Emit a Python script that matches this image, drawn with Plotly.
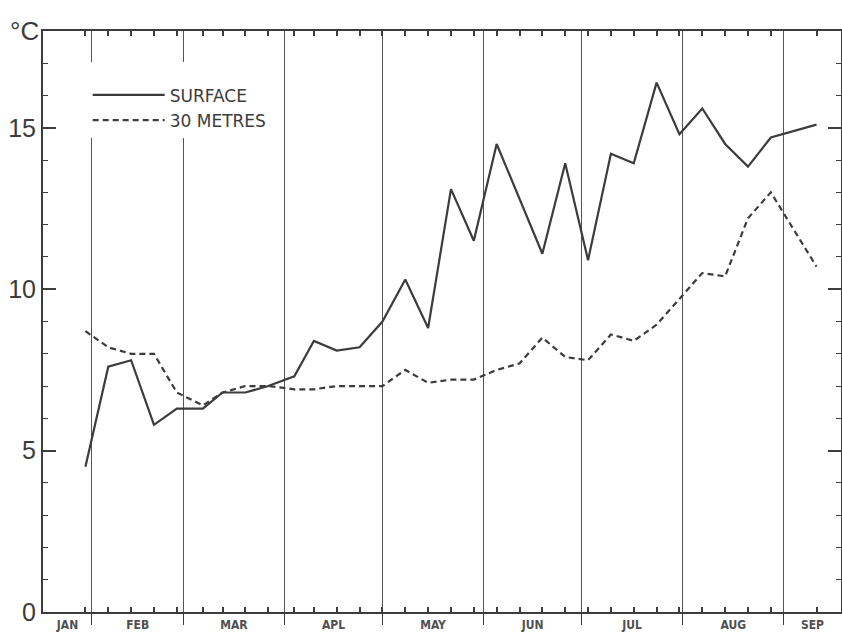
import plotly.graph_objects as go

# Day of year (Jan 1 = 0) of each weekly sampling
surface_days = [29, 36, 43, 50, 57, 65, 71, 78, 85, 93, 99, 106, 113, 120, 127, 134, 141, 148,
                155, 169, 176, 183, 190, 197, 204, 211, 218, 225, 232, 239, 253]
surface_temp = [4.5, 7.6, 7.8, 5.8, 6.3, 6.3, 6.8, 6.8, 7.0, 7.3, 8.4, 8.1, 8.2, 9.0, 10.3, 8.8,
                13.1, 11.5, 14.5, 11.1, 13.9, 10.9, 14.2, 13.9, 16.4, 14.8, 15.6, 14.5, 13.8,
                14.7, 15.1]

depth_days = [29, 36, 43, 50, 57, 65, 71, 78, 85, 93, 99, 106, 113, 120, 127, 134, 141, 148,
              155, 162, 169, 176, 183, 190, 197, 204, 211, 218, 225, 232, 239, 253]
depth_temp = [8.7, 8.2, 8.0, 8.0, 6.8, 6.4, 6.8, 7.0, 7.0, 6.9, 6.9, 7.0, 7.0, 7.0, 7.5, 7.1,
              7.2, 7.2, 7.5, 7.7, 8.5, 7.9, 7.8, 8.6, 8.4, 8.9, 9.7, 10.5, 10.4, 12.2, 13.0, 10.7]

month_starts = [31, 59, 90, 120, 151, 181, 212, 243]
month_label_pos = [23.5, 45, 74.5, 105, 135.5, 166, 196.5, 227.5, 251.75]
month_labels = ["JAN", "FEB", "MAR", "APL", "MAY", "JUN", "JUL", "AUG", "SEP"]
y_ticks = [0, 5, 10, 15]

X_RANGE = [16, 260.5]
INK = "#3c3c3c"

fig = go.Figure()
fig.add_trace(go.Scatter(x=surface_days, y=surface_temp, mode="lines", name="SURFACE",
                         line=dict(color=INK, width=2.2)))
fig.add_trace(go.Scatter(x=depth_days, y=depth_temp, mode="lines", name="30 METRES",
                         line=dict(color=INK, width=2.2, dash="6px,4px")))
# empty carriers so the helper axes (month boundaries, sampling ticks) get drawn
fig.add_trace(go.Scatter(x=[], y=[], xaxis="x2", showlegend=False, hoverinfo="skip"))
fig.add_trace(go.Scatter(x=[], y=[], xaxis="x3", showlegend=False, hoverinfo="skip"))

fig.update_layout(
    width=842, height=634, autosize=False,
    margin=dict(l=43, r=1, t=31, b=22),
    paper_bgcolor="white", plot_bgcolor="white",
    font=dict(family="DejaVu Sans", color=INK),
    showlegend=True,
    legend=dict(x=0.056, y=0.947, xanchor="left", yanchor="top",
                bgcolor="white", borderwidth=0, itemwidth=72,
                title=dict(text="\u00a0", font=dict(size=12)),
                font=dict(family="DejaVu Sans", size=17, color=INK),
                tracegroupgap=0),
    xaxis=dict(range=X_RANGE, showline=True, linecolor=INK, linewidth=2, mirror=True,
               tickmode="array", tickvals=month_label_pos, ticktext=month_labels,
               ticks="", showgrid=False, zeroline=False, automargin=False,
               ticklabelstandoff=1,
               tickfont=dict(family="DejaVu Sans Condensed", size=12, color="#505050",
                             weight="bold")),
    xaxis2=dict(range=X_RANGE, overlaying="x", anchor="y", side="bottom",
                tickmode="array", tickvals=month_starts, showticklabels=False,
                ticks="outside", ticklen=12, tickcolor=INK, tickwidth=1,
                showgrid=True, gridcolor="#555555", gridwidth=1, showline=False,
                zeroline=False, automargin=False),
    xaxis3=dict(range=X_RANGE, overlaying="x", anchor="y", side="bottom",
                tickmode="array", tickvals=depth_days, showticklabels=False,
                ticks="inside", ticklen=5, tickcolor=INK, tickwidth=1.5,
                showline=True, linecolor=INK, linewidth=2, mirror="ticks",
                showgrid=False, zeroline=False, automargin=False),
    yaxis=dict(range=[0, 18], showline=True, linecolor=INK, linewidth=2, mirror="ticks",
               tickmode="array", tickvals=y_ticks, ticks="inside", ticklen=13,
               tickcolor=INK, tickwidth=2, showgrid=False, zeroline=False, automargin=False,
               tickfont=dict(family="Liberation Sans", size=25, color=INK),
               minor=dict(dtick=1, tick0=0, ticks="inside", ticklen=5,
                          tickcolor=INK, tickwidth=1, showgrid=False)),
    annotations=[dict(text="°C", xref="paper", yref="paper", x=-0.002, y=1.0,
                      xanchor="right", yanchor="middle", showarrow=False,
                      font=dict(family="Liberation Sans", size=26, color=INK))],
)

post = ("document.body.style.margin='0';document.body.style.overflow='hidden';"
        "Plotly.relayout('{plot_id}', {width: 842, height: 634});")
fig.write_html("out.html", config={"responsive": False, "displayModeBar": False},
               post_script=post)
